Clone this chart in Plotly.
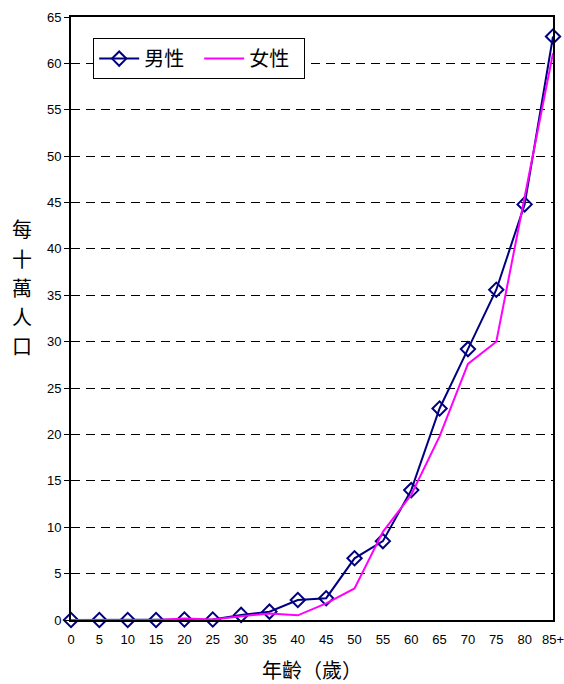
import plotly.graph_objects as go

ages = ["0", "5", "10", "15", "20", "25", "30", "35", "40", "45", "50", "55", "60", "65", "70", "75", "80", "85+"]
male = [0.0, 0.0, 0.0, 0.0, 0.05, 0.05, 0.55, 0.9, 2.15, 2.35, 6.65, 8.5, 14.0, 22.8, 29.2, 35.6, 44.8, 62.9]
female = [0.0, 0.0, 0.0, 0.0, 0.15, 0.05, 0.4, 0.7, 0.5, 1.8, 3.4, 9.5, 13.5, 19.8, 27.6, 30.0, 45.6, 61.1]
yticks = [0, 5, 10, 15, 20, 25, 30, 35, 40, 45, 50, 55, 60, 65]
ytitle_chars = ["每", "十", "萬", "人", "口"]

xs = list(range(len(ages)))
cjk = "Noto Sans CJK TC"

fig = go.Figure()
fig.add_trace(go.Scatter(
    x=xs, y=male, name="男性", mode="lines+markers",
    line=dict(color="#000080", width=2),
    marker=dict(symbol="diamond-open", size=11, color="#000080", line=dict(width=2)),
    cliponaxis=False,
))
fig.add_trace(go.Scatter(
    x=xs, y=female, name="女性", mode="lines",
    line=dict(color="#FF00FF", width=2),
    cliponaxis=False,
))

fig.update_layout(
    width=564, height=684,
    margin=dict(l=71, r=11, t=17, b=64),
    paper_bgcolor="white", plot_bgcolor="white",
    font=dict(family="Liberation Sans, Arial, sans-serif", size=13, color="black"),
    showlegend=True,
    legend=dict(
        orientation="h", x=0.046, y=0.965, xanchor="left", yanchor="top",
        bordercolor="black", borderwidth=1, bgcolor="white",
        font=dict(family=cjk, size=20, color="black"),
        itemwidth=40, entrywidth=50, tracegroupgap=0,
    ),
    xaxis=dict(
        range=[0, 17], tickmode="array", tickvals=xs, ticktext=ages,
        showgrid=False, zeroline=False, automargin=False,
        showline=True, linecolor="black", linewidth=2, mirror=True,
        ticks="", tickfont=dict(size=13), ticklabelstandoff=6,
        ticklabeloverflow="allow",
        title=dict(text="年齡（歲）", font=dict(family=cjk, size=20), standoff=20),
    ),
    yaxis=dict(
        range=[0, 65], tickmode="array", tickvals=yticks,
        showgrid=True, gridcolor="black", gridwidth=1, griddash="9px,6px",
        zeroline=False, automargin=False,
        showline=True, linecolor="black", linewidth=2, mirror=True,
        ticks="outside", ticklen=5, tickcolor="black",
        tickfont=dict(size=13),
    ),
)

# vertical stacked y-axis title, one character per row
for i, ch in enumerate(ytitle_chars):
    fig.add_annotation(
        text=ch, xref="paper", yref="paper",
        x=-0.102, y=(620 - (229 + 29 * i)) / 603, xanchor="center", yanchor="middle",
        showarrow=False, font=dict(family=cjk, size=20, color="black"),
    )

fig.write_html("out.html", config={"displayModeBar": False},
               post_script="document.body.style.margin='0';")
